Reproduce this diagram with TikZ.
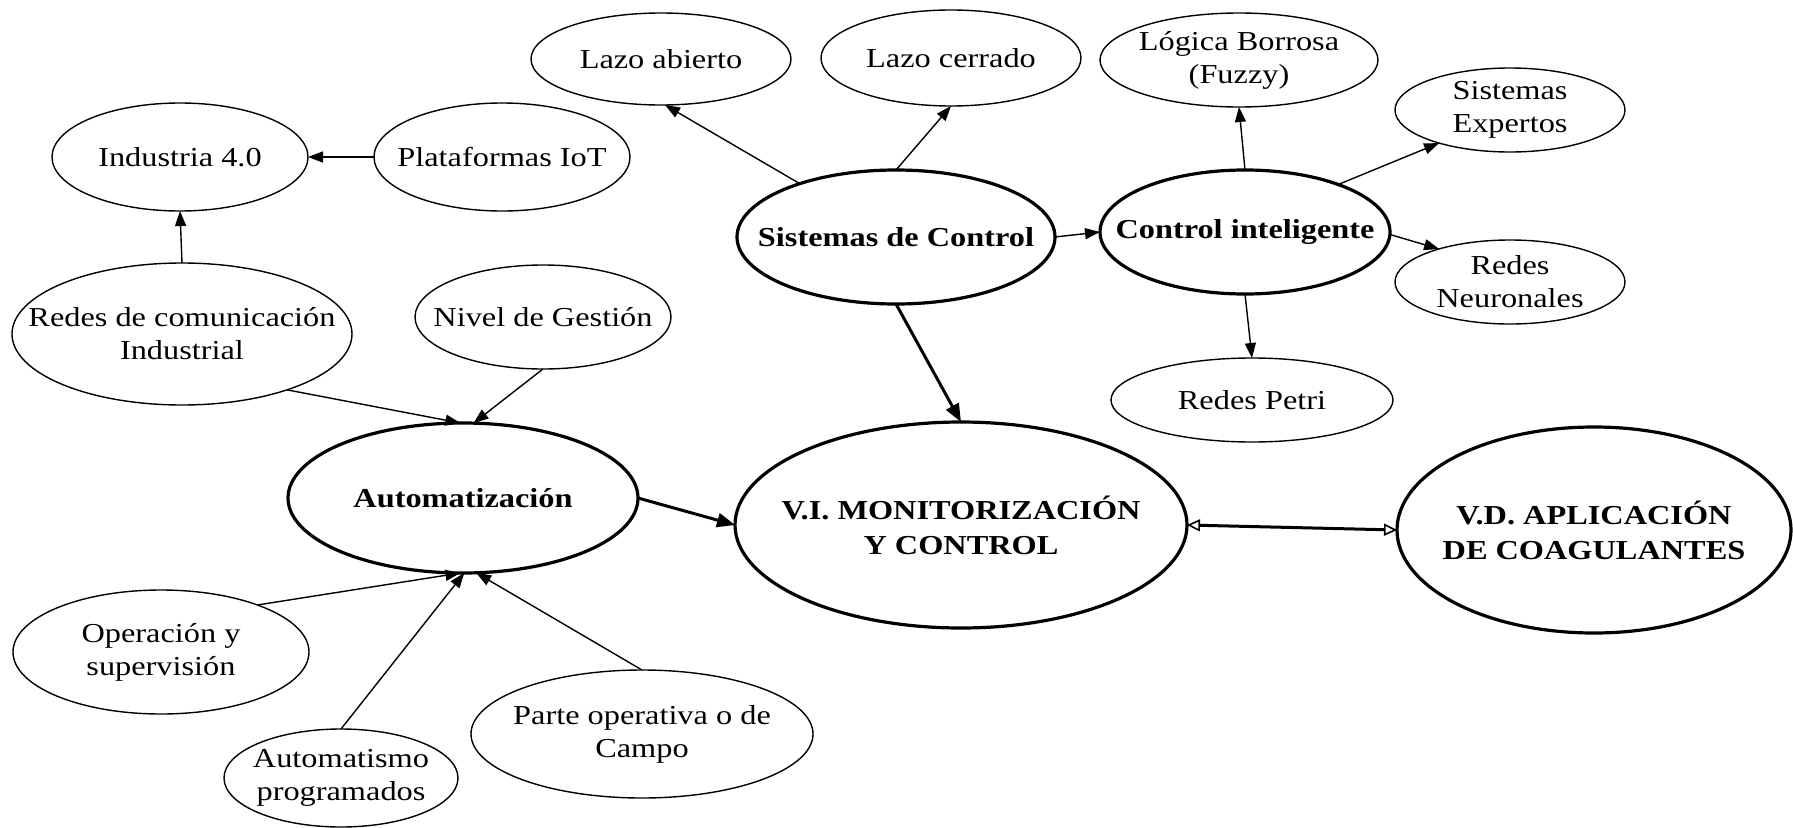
\documentclass[tikz,border=0pt]{standalone}
\usepackage{fontspec}
\setmainfont{Liberation Serif}[FakeStretch=1.18]
\usetikzlibrary{arrows.meta,shapes.geometric}
\begin{document}
\begin{tikzpicture}[x=1pt,y=-1pt,
  ell/.style={draw, ellipse, line width=1.4pt, inner sep=0pt, outer sep=0pt},
  bell/.style={ell, line width=3.2pt},
  txt/.style={align=center, font=\fontsize{27.4}{33}\selectfont, inner sep=0pt},
  btxt/.style={align=center, font=\fontsize{27.4}{35}\selectfont\bfseries, inner sep=0pt},
  arr/.style={-{Triangle[length=15pt,width=11pt]}, line width=1.4pt},
  barr/.style={-{Triangle[length=18pt,width=14pt]}, line width=3pt},
  darr/.style={{Triangle[open,length=13pt,width=12pt,line width=1.6pt]}-{Triangle[open,length=13pt,width=12pt,line width=1.6pt]}, line width=3pt}]
\fill[white] (0,0) rectangle (1793,827);
\useasboundingbox (0,0) rectangle (1793,827);

% ellipses
\node[ell, minimum width=256pt, minimum height=108pt] (ind) at (180,157) {};
\node[ell, minimum width=256pt, minimum height=108pt] (iot) at (502,157) {};
\node[ell, minimum width=260pt, minimum height=92pt] (la) at (661,59) {};
\node[ell, minimum width=260pt, minimum height=96pt] (lc) at (951,58) {};
\node[ell, minimum width=278pt, minimum height=94pt] (lb) at (1239,60) {};
\node[ell, minimum width=230pt, minimum height=84pt] (se) at (1510,110) {};
\node[bell, minimum width=318pt, minimum height=134pt] (sc) at (896,237) {};
\node[bell, minimum width=290pt, minimum height=124pt] (ci) at (1245,232) {};
\node[ell, minimum width=230pt, minimum height=84pt] (rn) at (1510,282) {};
\node[ell, minimum width=282pt, minimum height=84pt] (rp) at (1252,400) {};
\node[ell, minimum width=340pt, minimum height=142pt] (rc) at (182,334) {};
\node[ell, minimum width=256pt, minimum height=104pt] (ng) at (543,317) {};
\node[bell, minimum width=350pt, minimum height=150pt] (au) at (463,498) {};
\node[ell, minimum width=296pt, minimum height=124pt] (op) at (161,652) {};
\node[ell, minimum width=234pt, minimum height=98pt] (am) at (341,778) {};
\node[ell, minimum width=342pt, minimum height=128pt] (po) at (642,734) {};
\node[bell, minimum width=452pt, minimum height=206pt] (vi) at (961,525) {};
\node[bell, minimum width=394pt, minimum height=206pt] (vd) at (1594,530) {};

% texts
\node[txt] (indt) at (ind) {Industria 4.0};
\node[txt] (iott) at (iot) {Plataformas IoT};
\node[txt] (lat) at (la) {Lazo abierto};
\node[txt] (lct) at (lc) {Lazo cerrado};
\node[txt] (lbt) at (lb) {Lógica Borrosa\\(Fuzzy)};
\node[txt] (set) at (se) {Sistemas\\Expertos};
\node[btxt] (sct) at (sc) {Sistemas de Control};
\node[btxt] (cit) at (ci) {Control inteligente};
\node[txt] (rnt) at (rn) {Redes\\Neuronales};
\node[txt] (rpt) at (rp) {Redes Petri};
\node[txt] (rct) at (rc) {Redes de comunicación\\Industrial};
\node[txt] (ngt) at (ng) {Nivel de Gestión};
\node[btxt] (aut) at (au) {Automatización};
\node[txt] (opt) at (op) {Operación y\\supervisión};
\node[txt] (amt) at (am) {Automatismo\\programados};
\node[txt] (pot) at (po) {Parte operativa o de\\Campo};
\node[btxt] (vit) at (vi) {V.I. MONITORIZACIÓN\\Y CONTROL};
\node[btxt] (vdt) at (vd) {V.D. APLICACIÓN\\DE COAGULANTES};

% connectors
\draw[arr] (iot) -- (ind);
\draw[arr] (rc.north) -- (ind.south);
\draw[arr] (sc.151) -- (la.-85);
\draw[arr] (sc.north) -- (lc.south);
\draw[arr] (sc.east) -- (ci.west);
\draw[arr] (ci.north) -- (lb.south);
\draw[arr] (ci.27) -- (se.-155);
\draw[arr] (ci.-1) -- (rn.155);
\draw[arr] (ci.south) -- (rp.north);
\draw[barr] (sc.south) -- (vi.north);
\draw[barr] (au.east) -- (vi.west);
\draw[darr] (vi.east) -- (vd.west);
\draw[arr] (rc.-28) -- (au.92);
\draw[arr] (ng.south) -- (au.82);
\draw[arr] (op.26) -- (au.-92);
\draw[arr] (am.north) -- (au.-89);
\draw[arr] (po.north) -- (au.-80);
\end{tikzpicture}
\end{document}
